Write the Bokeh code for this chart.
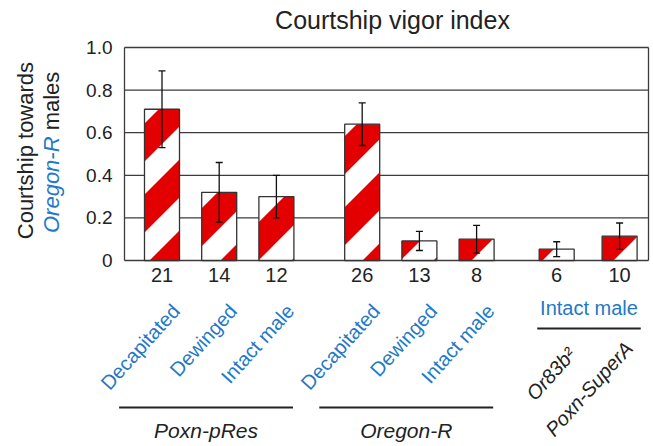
import math
from bokeh.plotting import figure
from bokeh.models import ColumnDataSource, Whisker, TeeHead, Range1d
from bokeh.embed import file_html
from bokeh.resources import INLINE
from bokeh.core.properties import value

# ---------------- data ----------------
conditions = ["Decapitated", "Dewinged", "Intact male",
              "Decapitated", "Dewinged", "Intact male",
              "Or83b\u00b2", "Poxn-SuperA"]
genotype_groups = ["Poxn-pRes", "Oregon-R", "Intact male"]
group_of_bar = [0, 0, 0, 1, 1, 1, 2, 2]
n_flies = ["21", "14", "12", "26", "13", "8", "6", "10"]
vigor = [0.71, 0.32, 0.30, 0.64, 0.092, 0.10, 0.053, 0.114]
sem = [0.18, 0.14, 0.10, 0.10, 0.045, 0.065, 0.035, 0.062]
y_ticks = [0, 0.2, 0.4, 0.6, 0.8, 1.0]
y_tick_labels = ["0" if t == 0 else f"{t:.1f}" for t in y_ticks]
title_text = "Courtship vigor index"

# ---------------- layout ----------------
slot = [0, 1, 2, 3.5, 4.5, 5.5, 6.9, 8.0]   # bar slot positions
W, H = 653, 446
SX, SY = 57.2, 213.0          # px per data unit
X_OFF, Y_OFF = 161.5, 260.0   # px position of x=0 / y=0
x_start, x_end = -X_OFF / SX, (W - X_OFF) / SX
y_start, y_end = -(H - Y_OFF) / SY, Y_OFF / SY
box_l, box_r = (124 - X_OFF) / SX, (648 - X_OFF) / SX
BAR_W = 0.612

FONT = value("Liberation Sans")
BLUE = "#2279c6"
INK = "#222222"
RED = "#e30000"
GRID = "#3c3c3c"

p = figure(width=W, height=H, output_backend="svg", toolbar_location=None,
           x_range=Range1d(x_start, x_end), y_range=Range1d(y_start, y_end),
           x_axis_location=None, y_axis_location=None,
           min_border_left=0, min_border_right=0, min_border_top=0, min_border_bottom=0)
p.outline_line_color = None
p.background_fill_color = "white"
p.border_fill_color = "white"
for g in p.grid:
    g.visible = False
for r in list(p.center):
    if r.__class__.__name__ == "Grid":
        r.visible = False

# grid lines (top and bottom ones close the box) and box sides
p.segment(x0=[box_l] * len(y_ticks), x1=[box_r] * len(y_ticks), y0=y_ticks, y1=y_ticks,
          line_color=GRID, line_width=1.3)
p.segment(x0=[box_l, box_r], y0=[0, 0], x1=[box_l, box_r], y1=[1, 1],
          line_color=GRID, line_width=1.3)

# y tick labels
p.text(x=[(112 - X_OFF) / SX] * len(y_ticks), y=y_ticks, text=y_tick_labels,
       text_font=FONT, text_font_size="19px", text_align="right", text_baseline="middle",
       text_color=INK)

src = ColumnDataSource(dict(
    x=slot, top=vigor,
    upper=[v + e for v, e in zip(vigor, sem)],
    lower=[v - e for v, e in zip(vigor, sem)],
))

# white bar background
p.vbar(x="x", top="top", width=BAR_W, bottom=0, source=src,
       fill_color="white", line_color=None)

# diagonal red stripes, anchored to the screen like a pattern fill
PERIOD, RED_W, PHASE = 71.0, 38.0, 26.0


def clip(poly, f):
    out = []
    n = len(poly)
    for i in range(n):
        P, Q = poly[i], poly[(i + 1) % n]
        fp, fq = f(P), f(Q)
        if fp >= 0:
            out.append(P)
        if (fp >= 0) != (fq >= 0):
            t = fp / (fp - fq)
            out.append((P[0] + t * (Q[0] - P[0]), P[1] + t * (Q[1] - P[1])))
    return out


sx_list, sy_list = [], []
for xc, top in zip(slot, vigor):
    uL = X_OFF + (xc - BAR_W / 2) * SX
    uR = X_OFF + (xc + BAR_W / 2) * SX
    T = top * SY
    rect = [(uL, 0.0), (uR, 0.0), (uR, T), (uL, T)]
    dmin, dmax = -uR, T - uL
    k = math.floor((dmin - PHASE) / PERIOD) - 1
    while PHASE + k * PERIOD < dmax:
        a = PHASE + k * PERIOD
        b = a + RED_W
        poly = clip(rect, lambda q, a=a: (q[1] - q[0]) - a)
        if poly:
            poly = clip(poly, lambda q, b=b: b - (q[1] - q[0]))
        if len(poly) >= 3:
            sx_list.append([(u - X_OFF) / SX for u, v in poly])
            sy_list.append([v / SY for u, v in poly])
        k += 1
p.patches(xs=sx_list, ys=sy_list, fill_color=RED, line_color=None)

# bar outlines
p.vbar(x="x", top="top", width=BAR_W, bottom=0, source=src,
       fill_color=None, line_color="#333333", line_width=1.3)

wh = Whisker(base="x", upper="upper", lower="lower", source=src,
             line_color="#111111", line_width=1.3, level="overlay",
             upper_head=TeeHead(size=7, line_color="#111111", line_width=1.3),
             lower_head=TeeHead(size=7, line_color="#111111", line_width=1.3))
p.add_layout(wh)

# title
p.text(x=[(392 - X_OFF) / SX], y=[1.131], text=[title_text], text_font=FONT,
       text_font_size="25px", text_align="center", text_baseline="middle", text_color=INK)

# y axis title
p.text(x=[(25 - X_OFF) / SX], y=[0.516], text=["Courtship towards"], angle=math.pi / 2,
       text_font=FONT, text_font_size="22px", text_align="center", text_baseline="middle",
       text_color=INK)
p.text(x=[(51 - X_OFF) / SX], y=[0.129], text=["Oregon-R"], angle=math.pi / 2,
       text_font=FONT, text_font_size="22px", text_font_style="italic",
       text_align="left", text_baseline="middle", text_color=BLUE)
p.text(x=[(51 - X_OFF) / SX], y=[0.611], text=["males"], angle=math.pi / 2,
       text_font=FONT, text_font_size="22px", text_align="left", text_baseline="middle",
       text_color=INK)

# n values
p.text(x=slot, y=[-0.07] * len(slot), text=n_flies, text_font=FONT, text_font_size="20px",
       text_align="center", text_baseline="middle", text_color=INK)

# rotated condition labels
ang = math.radians(48)
p.text(x=[s + 0.10 for s in slot[:6]], y=[-0.185] * 6, text=conditions[:6], angle=ang,
       text_font=FONT, text_font_size="20px", text_align="right", text_baseline="top",
       text_color=BLUE)
p.text(x=[slot[6] + 0.12, slot[7] + 0.02], y=[-0.39, -0.36], text=conditions[6:], angle=ang,
       text_font=FONT, text_font_size="20px", text_font_style="italic",
       text_align="right", text_baseline="top", text_color=INK)

# group lines and labels
gx0, gx1, gy, ly = [], [], [], []
for g in range(3):
    xs = [s for s, gg in zip(slot, group_of_bar) if gg == g]
    if g < 2:
        gx0.append(xs[0] - 0.75); gx1.append(xs[-1] + 0.29); gy.append(-0.69); ly.append(-0.80)
    else:
        gx0.append(xs[0] - 0.34); gx1.append(xs[-1] + 0.37); gy.append(-0.319); ly.append(-0.225)
p.segment(x0=gx0, y0=gy, x1=gx1, y1=gy, line_color=INK, line_width=2)
cx = [(a + b) / 2 for a, b in zip(gx0, gx1)]
p.text(x=cx[:2], y=ly[:2], text=genotype_groups[:2], text_font=FONT, text_font_size="21px",
       text_font_style="italic", text_align="center", text_baseline="middle", text_color=INK)
p.text(x=cx[2:], y=ly[2:], text=genotype_groups[2:], text_font=FONT, text_font_size="20px",
       text_align="center", text_baseline="middle", text_color=BLUE)

open("out.html", "w").write(file_html(p, INLINE))
